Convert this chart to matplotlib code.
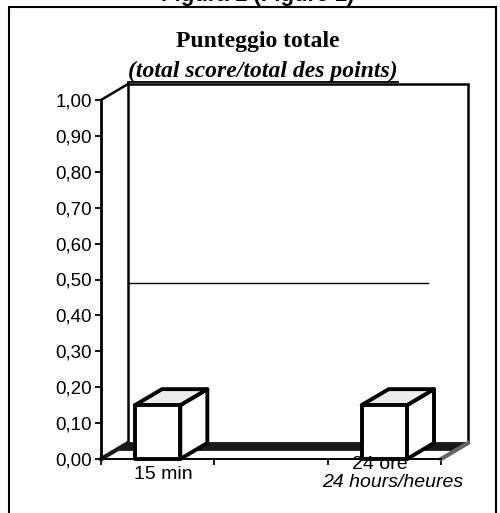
import matplotlib
matplotlib.use("Agg")
import matplotlib.pyplot as plt
from matplotlib.patches import Polygon, Rectangle
import numpy as np

# ---- data ----
categories = ["15 min", "", "24 ore"]
category_sub = ["", "", "24 hours/heures"]
values = [0.15, 0.0, 0.15]
reference_value = 0.49
yticks = [0.0, 0.1, 0.2, 0.3, 0.4, 0.5, 0.6, 0.7, 0.8, 0.9, 1.0]
title = "Punteggio totale"
subtitle = "(total score/total des points)"
header = "Figura 1 (Figure 1)"

# ---- style ----
W, H = 500, 513
fig = plt.figure(figsize=(W / 100, H / 100), dpi=100)
ax = fig.add_axes([101 / W, 54 / H, 340 / W, 359 / H])
n = len(categories)
ax.set_xlim(0, n)
ax.set_ylim(0, 1)
DX = 27 / (340 / n)   # depth offset in x data units
DY = 16 / 359         # depth offset in y data units
BAR_W = 0.40
LW = 2.8

sans = ["Liberation Sans", "DejaVu Sans"]
serif = ["Liberation Serif", "DejaVu Serif"]

for s in ["top", "right"]:
    ax.spines[s].set_visible(False)
ax.spines["left"].set_linewidth(2.0)
ax.spines["bottom"].set_linewidth(1.3)
ax.set_yticks(yticks)
ax.set_yticklabels([f"{v:.2f}".replace(".", ",") for v in yticks],
                   fontfamily=sans, fontsize=13.5)
ax.tick_params(axis="y", direction="out", length=4, width=1.3, pad=2.5)
ax.set_xticks(np.arange(n + 1))
ax.set_xticklabels([])
ax.tick_params(axis="x", direction="out", length=4, width=1.3)

# back walls
kw = dict(color="black", lw=1.8, clip_on=False, solid_capstyle="round")
ax.plot([0, DX], [1, 1 + DY], **kw)
ax.plot([DX, DX], [DY, 1 + DY], **kw)
ax.plot([DX, n + DX], [1 + DY, 1 + DY], **kw)
ax.plot([n + DX, n + DX], [1 + DY, DY], **kw)

# floor
floor = Polygon([(0, 0), (n, 0), (n + DX, DY), (DX, DY)], closed=True,
                facecolor="white", edgecolor="black", lw=1.0, clip_on=False)
ax.add_patch(floor)
band = Polygon([(DX, DY), (n + DX, DY), (n + DX * 0.55, DY * 0.55),
                (DX * 0.55, DY * 0.55)], closed=True, facecolor="#1a1a1a",
               edgecolor="#1a1a1a", lw=1.0, joinstyle="round", clip_on=False)
ax.add_patch(band)
ax.plot([0, DX], [0, DY], color="#1a1a1a", lw=3, clip_on=False)
ax.plot([n, n + DX], [0, DY], color="#666666", lw=3, clip_on=False)

# reference line
ax.plot([DX, n - 0.114], [reference_value, reference_value],
        color="black", lw=1.0, clip_on=False)

# bars (3D boxes)
for i, v in enumerate(values):
    if v <= 0:
        continue
    x0 = i + 0.5 - BAR_W / 2
    x1 = x0 + BAR_W
    side = Polygon([(x1, 0), (x1 + DX, DY), (x1 + DX, v + DY), (x1, v)],
                   closed=True, facecolor="white", edgecolor="black",
                   lw=LW, joinstyle="round", clip_on=False, zorder=5)
    top = Polygon([(x0, v), (x1, v), (x1 + DX, v + DY), (x0 + DX, v + DY)],
                  closed=True, facecolor="#ececec", edgecolor="black",
                  lw=LW, joinstyle="round", clip_on=False, zorder=5)
    front = Rectangle((x0, 0), BAR_W, v, facecolor="white",
                      edgecolor="black", lw=LW, joinstyle="round",
                      clip_on=False, zorder=6)
    ax.add_patch(side)
    ax.add_patch(top)
    ax.add_patch(front)

# category labels
for i, (c, s) in enumerate(zip(categories, category_sub)):
    if not c:
        continue
    if s:
        ax.annotate(c, (i + 0.46, 0), xytext=(0, 2), textcoords="offset points",
                    ha="center", va="top", fontsize=14, fontfamily=sans,
                    annotation_clip=False, zorder=7)
        ax.annotate(s, (i + 0.57, 0), xytext=(0, -10.5), textcoords="offset points",
                    ha="center", va="top", fontsize=14, fontfamily=sans,
                    style="italic", annotation_clip=False)
    else:
        ax.annotate(c, (i + 0.55, 0), xytext=(0, -5), textcoords="offset points",
                    ha="center", va="top", fontsize=14, fontfamily=sans,
                    annotation_clip=False)

# titles
fig.text(258 / W, 1 - 42 / H, title, ha="center", va="center",
         fontsize=17, fontweight="bold", fontfamily=serif)
fig.text(263 / W, 1 - 71 / H, subtitle, ha="center", va="center",
         fontsize=17, fontweight="bold", style="italic", fontfamily=serif)
fig.add_artist(plt.Line2D([128 / W, 398 / W], [1 - 82 / H, 1 - 82 / H],
                          transform=fig.transFigure, color="black", lw=1.3))
fig.text(258 / W, 1 - 1 / H, header, ha="center", va="baseline",
         fontsize=16, fontweight="bold", fontfamily=sans)

# outer frame
fig.add_artist(Rectangle((9 / W, -0.02), 487 / W, 1 - 7 / H + 0.02,
                         transform=fig.transFigure, fill=False,
                         edgecolor="black", lw=1.5))

fig.savefig("out.png", dpi=100)
